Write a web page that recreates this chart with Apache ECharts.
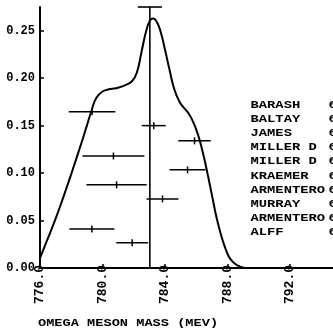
<!DOCTYPE html>
<html>
<head>
<meta charset="utf-8">
<script src="https://cdn.jsdelivr.net/npm/echarts@6/dist/echarts.min.js"></script>
<style>
html,body{margin:0;padding:0;background:#fff;}
#chart{width:333px;height:330px;}
</style>
</head>
<body>
<div id="chart"></div>
<script>
// ---- data ----
const curveMass = [776.0,776.4,777.0,777.5,778.0,778.5,779.0,779.3,779.6,780.0,780.5,781.0,781.5,781.9,782.2,782.5,782.8,783.05,783.25,783.45,783.7,784.0,784.3,784.6,784.9,785.2,785.5,785.8,786.1,786.4,786.7,787.0,787.3,787.6,787.9,788.2,788.6,789.1];
const curveDensity = [0.0105,0.027,0.052,0.075,0.099,0.124,0.150,0.166,0.179,0.186,0.1885,0.190,0.193,0.197,0.206,0.228,0.250,0.261,0.263,0.260,0.250,0.230,0.208,0.188,0.176,0.169,0.163,0.154,0.141,0.123,0.101,0.077,0.053,0.034,0.019,0.009,0.003,0.0];

const barMass = [779.33,780.70,783.28,785.89,785.44,780.90,783.84,779.32,781.90];
const barErr  = [1.49,1.98,0.77,1.04,1.15,1.93,1.02,1.44,1.02];
const barY    = [0.1646,0.118,0.150,0.134,0.1034,0.0876,0.0728,0.0411,0.0267];

const meanMass = 783.03;
const meanErr = 0.77;

const experiments = ['BARASH','BALTAY','JAMES','MILLER D','MILLER D','KRAEMER','ARMENTERO','MURRAY','ARMENTERO','ALFF'];
const yearPrefix = ['6','6','6','6','6','6','6','6','6','6'];

const xTicks = [776,780,784,788,792];
const yTicks = [0,0.05,0.10,0.15,0.20,0.25];
const xMin = 776, xMax = 794.75, yMin = 0, yMax = 0.275;
const xTitle = 'OMEGA MESON MASS (MEV)';

// ---- chart ----
const chart = echarts.init(document.getElementById('chart'), null, {renderer:'canvas'});
const labelFont = 'Liberation Mono';

const curveData = curveMass.map((m,i)=>[m, curveDensity[i]]);
const barData = barMass.map((m,i)=>[m, barErr[i], barY[i]]);

chart.setOption({
  animation:false,
  backgroundColor:'#fff',
  grid:{left:40, right:0, top:7, bottom:62, containLabel:false},
  xAxis:{
    type:'value', min:xMin, max:xMax,
    axisLine:{show:true, onZero:false, lineStyle:{color:'#000', width:2}},
    axisTick:{show:true, inside:true, length:4, customValues:xTicks, lineStyle:{color:'#000', width:1.5}},
    splitLine:{show:false},
    axisLabel:{
      customValues:xTicks, rotate:90, margin:-3,
      formatter:v=>v.toFixed(1),
      fontFamily:labelFont, fontWeight:'bold', fontSize:13, color:'#000',
      padding:[0,0,16,0]
    }
  },
  yAxis:{
    type:'value', min:yMin, max:yMax,
    axisLine:{show:true, onZero:false, lineStyle:{color:'#000', width:2}},
    axisTick:{show:true, inside:true, length:4, customValues:yTicks, lineStyle:{color:'#000', width:1.5}},
    splitLine:{show:false},
    axisLabel:{
      customValues:yTicks, margin:5,
      formatter:v=>v.toFixed(2),
      fontFamily:labelFont, fontWeight:'bold', fontSize:12, color:'#000'
    }
  },
  series:[
    {
      type:'line', data:curveData, smooth:0.5,
      showSymbol:false, symbol:'none',
      lineStyle:{color:'#000', width:2}, z:3
    },
    {
      type:'custom', data:barData, encode:{x:[0], y:[2]}, z:4,
      renderItem:function(params, api){
        const m = api.value(0), e = api.value(1), y = api.value(2);
        const c = api.coord([m, y]);
        const l = api.coord([m-e, y]);
        const r = api.coord([m+e, y]);
        return {type:'group', children:[
          {type:'line', shape:{x1:l[0], y1:c[1], x2:r[0], y2:c[1]}, style:{stroke:'#000', lineWidth:1.5}},
          {type:'line', shape:{x1:c[0], y1:c[1]-3.5, x2:c[0], y2:c[1]+3.5}, style:{stroke:'#000', lineWidth:1.5}}
        ]};
      }
    },
    {
      type:'custom', data:[[meanMass, meanErr, yMax]], encode:{x:[0], y:[2]}, z:4,
      renderItem:function(params, api){
        const m = api.value(0), e = api.value(1), yt = api.value(2);
        const b = api.coord([m, 0]);
        const t = api.coord([m, yt]);
        const l = api.coord([m-e, yt]);
        const r = api.coord([m+e, yt]);
        return {type:'group', children:[
          {type:'line', shape:{x1:b[0], y1:b[1], x2:t[0], y2:t[1]}, style:{stroke:'#000', lineWidth:1.6}},
          {type:'line', shape:{x1:l[0], y1:t[1], x2:r[0], y2:t[1]}, style:{stroke:'#000', lineWidth:1.6}}
        ]};
      }
    }
  ],
  graphic:[
    {
      type:'text', x:250.5, y:98, scaleX:1.38,
      style:{text:experiments.join('\n'), font:'bold 10px "Liberation Mono"', lineHeight:14.2, fill:'#000', textVerticalAlign:'top'}
    },
    {
      type:'text', x:328.5, y:98, scaleX:1.38,
      style:{text:yearPrefix.join('\n'), font:'bold 10px "Liberation Mono"', lineHeight:14.2, fill:'#000', textVerticalAlign:'top'}
    },
    {
      type:'text', x:38, y:323, scaleX:1.24,
      style:{text:xTitle, font:'bold 11px "Liberation Mono"', fill:'#000', textVerticalAlign:'middle'}
    }
  ]
});
</script>
</body>
</html>
